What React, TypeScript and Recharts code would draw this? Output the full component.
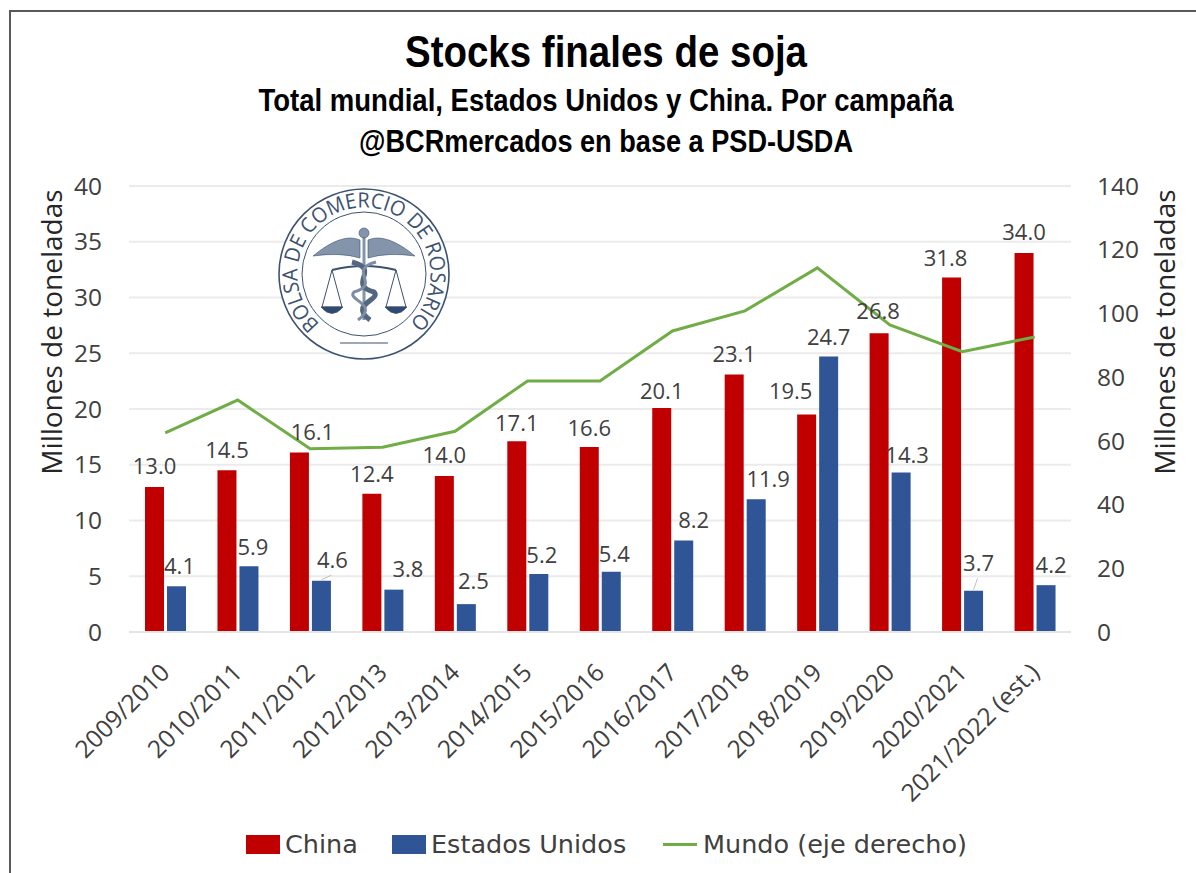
import { ComposedChart, Bar, Line, XAxis, YAxis, CartesianGrid, Legend, LabelList } from 'recharts'

const campaigns = ['2009/2010', '2010/2011', '2011/2012', '2012/2013', '2013/2014', '2014/2015', '2015/2016', '2016/2017', '2017/2018', '2018/2019', '2019/2020', '2020/2021', '2021/2022 (est.)']
const china = [13.0, 14.5, 16.1, 12.4, 14.0, 17.1, 16.6, 20.1, 23.1, 19.5, 26.8, 31.8, 34.0]
const estadosUnidos = [4.1, 5.9, 4.6, 3.8, 2.5, 5.2, 5.4, 8.2, 11.9, 24.7, 14.3, 3.7, 4.2]
const mundo = [62.5, 72.8, 57.5, 58, 63, 78.8, 78.8, 94.5, 100.8, 114.3, 96.4, 88, 92.6]
const leftTicks = [0, 5, 10, 15, 20, 25, 30, 35, 40]
const rightTicks = [0, 20, 40, 60, 80, 100, 120, 140]

// hand placed label nudges, same as the original chart
const chinaNudgeX = [0, 0, 13, 0, 0, 0, 0, 0, 0, -16, -1, -6, 0]
const chinaNudgeY = [0, 0, 0, 1, 0, 2, 2, 4, 0, -3, -2, 1, 0]
const usNudgeX = [3, 4, 11, 14, 7, 3, 3, 10, 12, 0, 6, 5, 5]
const usNudgeY = [0, 1, 0, 0, -3, 2, 3, 0, 0, 1, 3, -7, 0]
const usLeaders = [2, 11]

const rows = campaigns.map((campaign, i) => ({
  campaign,
  china: china[i],
  estadosUnidos: estadosUnidos[i],
  mundo: mundo[i],
}))

const FONT = "'Open Sans', sans-serif"
const TITLE_FONT = "'Liberation Sans', sans-serif"
const TEXT = '#404040'

function ValueLabel(props: any) {
  const { x, y, width, value, index, nudgeX, nudgeY, leaders } = props
  const cx = x + width / 2 + nudgeX[index]
  const cy = y - 18.5 + nudgeY[index]
  return (
    <g>
      {leaders.includes(index) && (
        <line x1={x + width / 2} y1={y - 1} x2={cx - 1} y2={cy + 13} stroke="#bfbfbf" strokeWidth={1} />
      )}
      <text x={cx} y={cy} textAnchor="middle" dominantBaseline="middle" fontFamily={FONT} fontSize={22} fill={TEXT}>
        {Number(value).toFixed(1)}
      </text>
    </g>
  )
}

function AngledTick(props: any) {
  const { x, y, payload } = props
  return (
    <text x={x + 6} y={y + 34} textAnchor="end" transform={`rotate(-45 ${x + 6} ${y + 34})`} fontFamily={FONT} fontSize={24.5} fill={TEXT}>
      {payload.value}
    </text>
  )
}

function LegendRow({ payload }: any) {
  const widths = [146, 271, 320]
  return (
    <div style={{ display: 'flex', fontFamily: "'DejaVu Sans', sans-serif", fontSize: 25.5, color: TEXT, lineHeight: '30px', whiteSpace: 'nowrap' }}>
      {(payload || []).map((entry: any, i: number) => (
        <div key={entry.value} style={{ display: 'flex', alignItems: 'center', width: widths[i] }}>
          {entry.type === 'line' ? (
            <span style={{ width: 34, height: 3, background: entry.color, marginRight: 6 }} />
          ) : (
            <span style={{ width: 34, height: 19, background: entry.color, marginRight: 5 }} />
          )}
          {entry.value}
        </div>
      ))}
    </div>
  )
}

function Seal() {
  const cx = 364
  const cy = 274
  return (
    <svg width={1196} height={873} style={{ position: 'absolute', left: 0, top: 0, pointerEvents: 'none' }}>
      <defs>
        <path id="sealText" d={`M ${cx - 44} ${cy + 50} A 66.6 66.6 0 1 1 ${cx + 44} ${cy + 50}`} fill="none" />
      </defs>
      <g stroke="#3d5270" fill="none">
        <circle cx={cx} cy={cy} r={85} fill="#fff" strokeWidth={1.6} />
        <circle cx={cx} cy={cy} r={62} strokeWidth={1} />
        <line x1={cx} y1={cy - 40} x2={cx} y2={cy + 46} stroke="#8494aa" strokeWidth={3} />
        <circle cx={cx} cy={cy - 41} r={5} fill="#8494aa" strokeWidth={0.6} />
        <path d={`M ${cx - 51} ${cy - 18} Q ${cx - 22} ${cy - 42} ${cx - 4} ${cy - 34} L ${cx - 4} ${cy - 16} Q ${cx - 24} ${cy - 22} ${cx - 51} ${cy - 18} Z`} fill="#8494aa" strokeWidth={0.6} />
        <path d={`M ${cx + 51} ${cy - 18} Q ${cx + 22} ${cy - 42} ${cx + 4} ${cy - 34} L ${cx + 4} ${cy - 16} Q ${cx + 24} ${cy - 22} ${cx + 51} ${cy - 18} Z`} fill="#8494aa" strokeWidth={0.6} />
        <path d={`M ${cx - 32} ${cy - 4} Q ${cx} ${cy - 12} ${cx + 32} ${cy - 4}`} strokeWidth={2} />
        <path d={`M ${cx - 12} ${cy - 12} C ${cx + 18} ${cy - 4} ${cx - 18} ${cy + 10} ${cx + 10} ${cy + 18} C ${cx + 18} ${cy + 26} ${cx - 16} ${cy + 30} ${cx + 6} ${cy + 46}`} stroke="#53667f" strokeWidth={5} />
        <path d={`M ${cx + 12} ${cy - 12} C ${cx - 18} ${cy - 4} ${cx + 18} ${cy + 10} ${cx - 10} ${cy + 18} C ${cx - 18} ${cy + 26} ${cx + 16} ${cy + 30} ${cx - 6} ${cy + 46}`} stroke="#7d8da3" strokeWidth={3} />
        <path d={`M ${cx - 32} ${cy - 4} L ${cx - 42} ${cy + 33} L ${cx - 22} ${cy + 33} Z`} strokeWidth={1} />
        <path d={`M ${cx + 32} ${cy - 4} L ${cx + 22} ${cy + 33} L ${cx + 42} ${cy + 33} Z`} strokeWidth={1} />
        <path d={`M ${cx - 43} ${cy + 33} Q ${cx - 32} ${cy + 46} ${cx - 21} ${cy + 33} Z`} fill="#2e4a72" strokeWidth={0.8} />
        <path d={`M ${cx + 21} ${cy + 33} Q ${cx + 32} ${cy + 46} ${cx + 43} ${cy + 33} Z`} fill="#2e4a72" strokeWidth={0.8} />
        <line x1={cx - 24} y1={cy + 69} x2={cx + 24} y2={cy + 69} strokeWidth={1} />
      </g>
      <text fontFamily={FONT} fontSize={21} fill="#3d5270">
        <textPath href="#sealText" textLength={320} lengthAdjust="spacingAndGlyphs">BOLSA DE COMERCIO DE ROSARIO</textPath>
      </text>
    </svg>
  )
}

export default function App() {
  return (
    <div style={{ position: 'absolute', left: 0, top: 0, width: 1196, height: 873, background: '#fff', overflow: 'hidden' }}>
      <div style={{ position: 'absolute', left: 9, top: 10, width: 1300, height: 1000, border: '2px solid #595959' }} />
      <ComposedChart
        width={1196}
        height={873}
        data={rows}
        margin={{ top: 186, right: 35, bottom: 201, left: 39 }}
        barSize={19}
        barGap={3}
        style={{ position: 'absolute', left: 0, top: 0 }}
      >
        <CartesianGrid vertical={false} stroke="#ebebeb" strokeWidth={2} yAxisId="left" />
        <XAxis dataKey="campaign" interval={0} height={10} tick={<AngledTick />} axisLine={{ stroke: '#e4e4e4', strokeWidth: 2 }} tickLine={false} />
        <YAxis
          yAxisId="left"
          domain={[0, 40]}
          ticks={leftTicks}
          width={90}
          axisLine={false}
          tickLine={false}
          tickMargin={21}
          tick={{ fontFamily: FONT, fontSize: 24.5, fill: TEXT }}
          label={{ value: 'Millones de toneladas', angle: -90, position: 'center', dx: -32, dy: -77, style: { fontFamily: FONT, fontSize: 28, fill: '#262626' } }}
        />
        <YAxis
          yAxisId="right"
          orientation="right"
          domain={[0, 140]}
          ticks={rightTicks}
          width={90}
          axisLine={false}
          tickLine={false}
          tickMargin={20}
          tick={{ fontFamily: FONT, fontSize: 24.5, fill: TEXT, textAnchor: 'start' }}
          label={{ value: 'Millones de toneladas', angle: -90, position: 'center', dx: 49, dy: -77, style: { fontFamily: FONT, fontSize: 28, fill: '#262626' } }}
        />
        <Bar yAxisId="left" dataKey="china" name="China" fill="#c00000" isAnimationActive={false}>
          <LabelList dataKey="china" content={(p: any) => <ValueLabel {...p} nudgeX={chinaNudgeX} nudgeY={chinaNudgeY} leaders={[]} />} />
        </Bar>
        <Bar yAxisId="left" dataKey="estadosUnidos" name="Estados Unidos" fill="#2f5597" isAnimationActive={false}>
          <LabelList dataKey="estadosUnidos" content={(p: any) => <ValueLabel {...p} nudgeX={usNudgeX} nudgeY={usNudgeY} leaders={usLeaders} />} />
        </Bar>
        <Line yAxisId="right" type="linear" dataKey="mundo" name="Mundo (eje derecho)" stroke="#70ad47" strokeWidth={3} dot={false} legendType="line" isAnimationActive={false} />
        <Legend content={<LegendRow />} wrapperStyle={{ left: 246, top: 829, width: 760, bottom: 'auto' }} />
        <text x={606} y={67} textAnchor="middle" textLength={402} lengthAdjust="spacingAndGlyphs" fontFamily={TITLE_FONT} fontWeight={700} fontSize={44} fill="#000">Stocks finales de soja</text>
        <text x={606} y={111} textAnchor="middle" textLength={695} lengthAdjust="spacingAndGlyphs" fontFamily={TITLE_FONT} fontWeight={700} fontSize={31} fill="#000">Total mundial, Estados Unidos y China. Por campaña</text>
        <text x={606} y={152} textAnchor="middle" textLength={494} lengthAdjust="spacingAndGlyphs" fontFamily={TITLE_FONT} fontWeight={700} fontSize={31} fill="#000">@BCRmercados en base a PSD-USDA</text>
      </ComposedChart>
      <Seal />
    </div>
  )
}
